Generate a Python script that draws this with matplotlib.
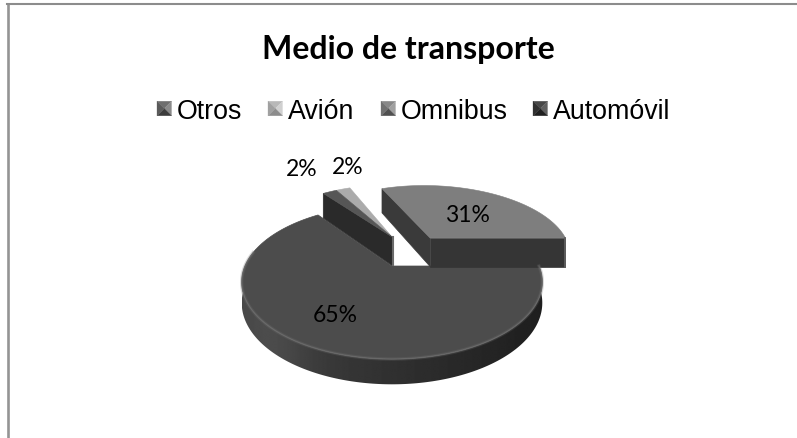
import numpy as np
import matplotlib
matplotlib.use('Agg')
import matplotlib.pyplot as plt
from matplotlib.patches import Polygon

title = 'Medio de transporte'
legend_names = ['Otros', 'Avión', 'Omnibus', 'Automóvil']
legend_shades = [('#8a8a8a', '#3c3c3c', '#5a5a5a', '#6e6e6e'),
                 ('#d0d0d0', '#8c8c8c', '#a0a0a0', '#b8b8b8'),
                 ('#a0a0a0', '#505050', '#707070', '#888888'),
                 ('#606060', '#202020', '#303030', '#484848')]
legend_x = [157, 268, 381, 533]
legend_text_x = [177, 288, 401, 553]

# pie values, drawn counterclockwise from the right side
slice_names = ['Omnibus', 'Avión', 'Otros', 'Automóvil']
slice_values = [31, 2, 2, 65]
slice_colors = ['#7e7e7e', '#ababab', '#565656', '#4c4c4c']
slice_walls = ['#343434', '#2a2a2a', '#2a2a2a', '#2a2a2a']
slice_offset = [(0.281, 0.413), (0, 0.43), (0, 0.43), (0, 0)]
slice_depth = [31, 31, 31, 20]
label_xy = [(467, 222), (348, 174), (302, 176), (335, 322)]

CX, CY = 392, 267
R, A, K = 147, 73.7, 0.208


def project(u, v, depth=0):
    w = 1 / (1 + K * v)
    return CX + R * u * w, CY - A * v * w + depth * w


def corners(a0, a1, off, n=60):
    t = np.radians(np.linspace(a0, a1, n))
    return np.cos(t) + off[0], np.sin(t) + off[1]


fig = plt.figure(figsize=(7.97, 4.39), dpi=100)
ax = fig.add_axes([0, 0, 1, 1])
ax.axis('off')

ax.plot([8.2, 8.2], [439, 5], color='#949494', lw=1.9)
ax.plot([7.2, 797], [5, 5], color='#8c8c8c', lw=1.5)

ax.text(408, 59, title, ha='center', va='baseline', fontsize=23,
        fontweight='bold', family='Lato', color='black')

for x, tx, name, sh in zip(legend_x, legend_text_x, legend_names, legend_shades):
    s = 14.5
    y = 109.5
    c = (x + s / 2, y)
    pts = [(x, y - s / 2), (x + s, y - s / 2), (x + s, y + s / 2), (x, y + s / 2)]
    # bevelled legend key, one triangle per side
    order = [(0, 1, sh[3]), (1, 2, sh[0]), (2, 3, sh[1]), (3, 0, sh[2])]
    for i, j, col in order:
        ax.add_patch(Polygon([pts[i], pts[j], c], fc=col, ec=col, lw=0.2))
    ax.text(tx, 119.5, name, ha='left', va='baseline', fontsize=19.3,
            family='Liberation Sans', color='black')

angles = np.cumsum([0] + [v * 3.6 for v in slice_values])

# main slice first, the exploded ones sit on top of it
a0, a1 = angles[3], angles[4]
col, depth = slice_colors[3], slice_depth[3]
us, vs = corners(a0, a1, slice_offset[3], 240)
xs, ys = project(us, vs)
low = vs < 0.25
wall = list(zip(xs[low], ys[low]))
wall += list(zip(*project(us[low][::-1], vs[low][::-1], depth)))
wall_patch = Polygon(wall, fc='none', ec='none')
ax.add_patch(wall_patch)
px = np.linspace(0, 1, 300)
shade = 0.26 - 0.14 * px + 0.05 * np.exp(-((px - 0.1) / 0.12) ** 2)
img = ax.imshow(shade[None, :], cmap='gray', vmin=0, vmax=1, aspect='auto',
                extent=[xs.min(), xs.max(), 400, 250], interpolation='bilinear')
img.set_clip_path(wall_patch)
ax.add_patch(Polygon(list(zip(xs, ys)) + [project(0, 0)], fc=col, ec=col, lw=0.5))
front = vs < 0.2
ax.plot(xs[front], ys[front], color='#707070', lw=2.5, alpha=0.25)
ax.plot(xs[front], ys[front], color='#707070', lw=1.0, alpha=0.6)

# Omnibus, Avion, Otros
for k in [0, 1, 2]:
    a0, a1 = angles[k], angles[k + 1]
    off = slice_offset[k]
    depth = slice_depth[k]
    us, vs = corners(a0, a1, off)
    xs, ys = project(us, vs)
    ax_, ay_ = project(off[0], off[1])
    bx, by = project(off[0], off[1], depth)
    if k == 0:
        # right edge and left edge of the slice
        rx, ry = xs[0], ys[0]
        rbx, rby = project(us[0], vs[0], depth)
        ax.add_patch(Polygon([(ax_, ay_), (rx, ry), (rbx, rby), (bx, by)],
                             fc='#353535', ec='#353535', lw=0.5))
        ax.plot([rx, rbx], [ry, rby], color='#5e5e5e', lw=1.3)
        lx, ly = xs[-1], ys[-1]
        lbx, lby = project(us[-1], vs[-1], depth)
        ax.add_patch(Polygon([(ax_, ay_), (lx, ly), (lbx, lby), (bx, by)],
                             fc='#3a3a3a', ec='#3a3a3a', lw=0.5))
    if k == 2:
        lx, ly = xs[-1], ys[-1]
        lbx, lby = project(us[-1], vs[-1], depth)
        ax.add_patch(Polygon([(ax_, ay_), (lx, ly), (lbx, lby), (bx, by)],
                             fc=slice_walls[k], ec=slice_walls[k], lw=0.5))
        ax.plot([ax_ + 1, bx + 1], [ay_, by], color='#6a6a6a', lw=1.5)
    ax.add_patch(Polygon(list(zip(xs, ys)) + [(ax_, ay_)],
                         fc=slice_colors[k], ec=slice_colors[k], lw=0.4))

for val, (x, y) in zip(slice_values, label_xy):
    ax.text(x, y, f'{val}%', ha='center', va='baseline', fontsize=16.5,
            family='Lato', color='black')

ax.set_xlim(0, 797)
ax.set_ylim(439, 0)
fig.savefig('out.png', dpi=100)
